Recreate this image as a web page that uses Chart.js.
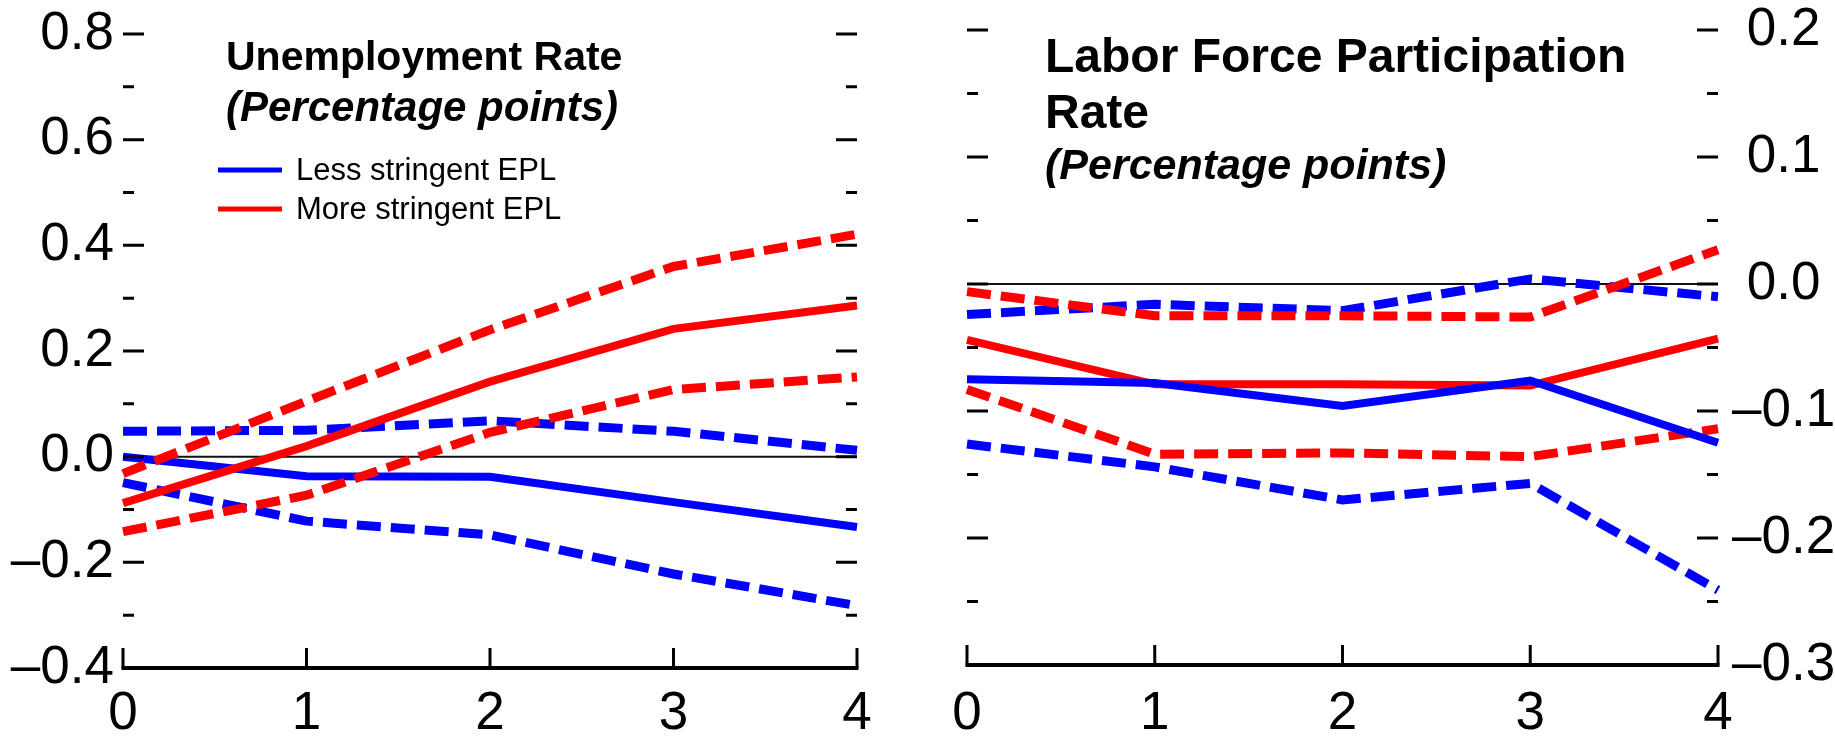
<!DOCTYPE html>
<html>
<head>
<meta charset="utf-8">
<script src="https://cdn.jsdelivr.net/npm/chart.js@4.4.1/dist/chart.umd.min.js"></script>
<style>
  html, body { margin: 0; padding: 0; background: #fff; }
  #wrap { position: relative; width: 1835px; height: 737px; overflow: hidden; background: #fff; }
  #cL { position: absolute; left: 0; top: 0; }
  #cR { position: absolute; left: 917px; top: 0; }
</style>
</head>
<body>
<div id="wrap">
  <canvas id="cL" width="917" height="737"></canvas>
  <canvas id="cR" width="918" height="737"></canvas>
</div>
<script>
// Years after the shock
const horizons = ['0', '1', '2', '3', '4'];

// Unemployment rate response (percentage points)
const urLessMid = [0.000, -0.037, -0.038, -0.086, -0.133];
const urLessHi  = [0.048, 0.050, 0.068, 0.048, 0.012];
const urLessLo  = [-0.049, -0.122, -0.148, -0.222, -0.282];
const urMoreMid = [-0.088, 0.020, 0.142, 0.242, 0.286];
const urMoreHi  = [-0.032, 0.105, 0.240, 0.360, 0.421];
const urMoreLo  = [-0.142, -0.073, 0.046, 0.127, 0.151];

// Labor force participation rate response (percentage points)
const lfLessMid = [-0.075, -0.078, -0.096, -0.076, -0.125];
const lfLessHi  = [-0.024, -0.016, -0.021, 0.004, -0.010];
const lfLessLo  = [-0.126, -0.144, -0.170, -0.157, -0.241];
const lfMoreMid = [-0.044, -0.079, -0.079, -0.080, -0.043];
const lfMoreHi  = [-0.006, -0.025, -0.025, -0.026, 0.027];
const lfMoreLo  = [-0.083, -0.134, -0.133, -0.136, -0.114];

// Axis tick values
const urYTicks = [-0.4, -0.2, 0.0, 0.2, 0.4, 0.6, 0.8];
const lfYTicks = [-0.3, -0.2, -0.1, 0.0, 0.1, 0.2];

// Text
const seriesNames = ['Less stringent EPL', 'More stringent EPL'];
const urTitle = ['Unemployment Rate'];
const lfTitle = ['Labor Force Participation', 'Rate'];
const unitsText = '(Percentage points)';

const FONT = "'Liberation Sans', Arial, Helvetica, sans-serif";
const BLUE = '#0000ff';
const RED = '#ff0000';

Chart.defaults.font.family = FONT;
Chart.defaults.color = '#000';

function fmtTick(v) {
  const s = Math.abs(v) < 1e-9 ? '0.0' : Number(v).toFixed(1);
  return s.replace('-', '\u2013');
}
// right-hand labels: non-negative values get a leading space so digits line up after the dash
function fmtTickRight(v) {
  const s = fmtTick(v);
  return s.charAt(0) === '\u2013' ? s : ' ' + s;
}

function lineSet(label, data, color, dashed) {
  return {
    label: label,
    data: data,
    borderColor: color,
    backgroundColor: color,
    borderWidth: dashed ? 9 : 8,
    borderDash: dashed ? [24, 10] : [],
    borderCapStyle: 'butt',
    borderJoinStyle: 'miter',
    pointRadius: 0,
    pointHoverRadius: 0,
    tension: 0,
    fill: false
  };
}

// Inward tick marks on both vertical edges, bottom axis with upward ticks,
// thin zero line, plus in-panel titles and legend.
const panelDecor = {
  id: 'panelDecor',
  beforeDatasetsDraw(chart) {
    const ctx = chart.ctx;
    const area = chart.chartArea;
    const y0 = chart.scales.y.getPixelForValue(0);
    ctx.save();
    ctx.strokeStyle = '#111';
    ctx.lineWidth = 2;
    ctx.beginPath();
    ctx.moveTo(area.left, y0);
    ctx.lineTo(area.right, y0);
    ctx.stroke();
    ctx.restore();
  },
  afterDraw(chart, args, o) {
    const ctx = chart.ctx;
    const area = chart.chartArea;
    const ys = chart.scales.y;
    const xs = chart.scales.x;
    ctx.save();
    ctx.strokeStyle = '#000';
    ctx.lineWidth = 3;
    ctx.lineCap = 'butt';

    const vals = ys.ticks.map(t => t.value);
    const majorLen = 21, minorLen = 11;
    ctx.beginPath();
    vals.forEach((v, i) => {
      const y = ys.getPixelForValue(v);
      ctx.moveTo(area.left, y); ctx.lineTo(area.left + majorLen, y);
      ctx.moveTo(area.right, y); ctx.lineTo(area.right - majorLen, y);
      if (i < vals.length - 1) {
        const ym = ys.getPixelForValue((v + vals[i + 1]) / 2);
        ctx.moveTo(area.left, ym); ctx.lineTo(area.left + minorLen, ym);
        ctx.moveTo(area.right, ym); ctx.lineTo(area.right - minorLen, ym);
      }
    });
    ctx.stroke();

    // bottom axis
    const yb = area.bottom;
    ctx.lineWidth = 4;
    ctx.beginPath();
    ctx.moveTo(xs.getPixelForValue(0) - 1.5, yb);
    ctx.lineTo(xs.getPixelForValue(chart.data.labels.length - 1) + 1.5, yb);
    ctx.stroke();
    ctx.lineWidth = 3;
    ctx.beginPath();
    chart.data.labels.forEach((l, i) => {
      const x = xs.getPixelForValue(i);
      ctx.moveTo(x, yb);
      ctx.lineTo(x, yb - 20);
    });
    ctx.stroke();

    // titles
    ctx.fillStyle = '#000';
    ctx.textAlign = 'left';
    ctx.textBaseline = 'alphabetic';
    (o.lines || []).forEach(l => {
      ctx.font = l.font;
      ctx.fillText(l.text, l.x, l.y);
    });

    // legend
    if (o.legend) {
      const lg = o.legend;
      lg.items.forEach((it, k) => {
        const yc = lg.y + k * lg.gap;
        ctx.strokeStyle = it.color;
        ctx.lineWidth = 5;
        ctx.beginPath();
        ctx.moveTo(lg.x, yc);
        ctx.lineTo(lg.x + lg.len, yc);
        ctx.stroke();
        ctx.fillStyle = '#000';
        ctx.font = lg.font;
        ctx.textBaseline = 'middle';
        ctx.fillText(it.text, lg.x + lg.len + lg.pad, yc + 1);
      });
    }
    ctx.restore();
  }
};

function makeOptions(cfg) {
  return {
    responsive: false,
    animation: false,
    devicePixelRatio: 1,
    layout: { padding: cfg.padding },
    plugins: {
      legend: { display: false },
      tooltip: { enabled: false },
      panelDecor: cfg.decor
    },
    scales: {
      x: {
        type: 'category',
        offset: false,
        grid: { display: false, drawTicks: false, tickLength: 0 },
        border: { display: false },
        ticks: { font: { size: 53, lineHeight: 1.0 }, color: '#000', padding: cfg.xPad, maxRotation: 0, autoSkip: false },
        afterFit(s) { s.height = cfg.xHeight; s.paddingLeft = 0; s.paddingRight = 0; }
      },
      y: {
        position: cfg.yPos,
        min: cfg.yTicks[0],
        max: cfg.yTicks[cfg.yTicks.length - 1],
        grid: { display: false, drawTicks: false, tickLength: 0 },
        border: { display: false },
        ticks: {
          stepSize: cfg.yTicks[1] - cfg.yTicks[0],
          font: { size: 53, lineHeight: 1.0 },
          color: '#000',
          padding: cfg.yPad,
          callback: cfg.fmt
        },
        afterFit(s) { s.width = cfg.yWidth; s.paddingTop = 0; s.paddingBottom = 0; }
      }
    }
  };
}

// Left panel: unemployment rate
new Chart(document.getElementById('cL'), {
  type: 'line',
  data: {
    labels: horizons,
    datasets: [
      lineSet(seriesNames[1], urMoreMid, RED, false),
      lineSet(seriesNames[1] + ' upper', urMoreHi, RED, true),
      lineSet(seriesNames[1] + ' lower', urMoreLo, RED, true),
      lineSet(seriesNames[0], urLessMid, BLUE, false),
      lineSet(seriesNames[0] + ' upper', urLessHi, BLUE, true),
      lineSet(seriesNames[0] + ' lower', urLessLo, BLUE, true)
    ]
  },
  plugins: [panelDecor],
  options: makeOptions({
    padding: { top: 34, right: 60, left: 0, bottom: 0 },
    xHeight: 69, xPad: 20,
    yPos: 'left', yTicks: urYTicks, yPad: 9, yWidth: 123, fmt: fmtTick,
    decor: {
      lines: [
        { text: urTitle[0], font: 'bold 41px ' + FONT, x: 226, y: 70 },
        { text: unitsText, font: 'italic bold 42px ' + FONT, x: 226, y: 121 }
      ],
      legend: {
        x: 218, y: 170, gap: 39, len: 64, pad: 14,
        font: '31px ' + FONT,
        items: [
          { text: seriesNames[0], color: BLUE },
          { text: seriesNames[1], color: RED }
        ]
      }
    }
  })
});

// Right panel: labor force participation rate
new Chart(document.getElementById('cR'), {
  type: 'line',
  data: {
    labels: horizons,
    datasets: [
      lineSet(seriesNames[0], lfLessMid, BLUE, false),
      lineSet(seriesNames[1], lfMoreMid, RED, false),
      lineSet(seriesNames[1] + ' upper', lfMoreHi, RED, true),
      lineSet(seriesNames[1] + ' lower', lfMoreLo, RED, true),
      lineSet(seriesNames[0] + ' upper', lfLessHi, BLUE, true),
      lineSet(seriesNames[0] + ' lower', lfLessLo, BLUE, true)
    ]
  },
  plugins: [panelDecor],
  options: makeOptions({
    padding: { top: 30, right: 0, left: 50, bottom: 0 },
    xHeight: 72, xPad: 23,
    yPos: 'right', yTicks: lfYTicks, yPad: 14, yWidth: 117, fmt: fmtTickRight,
    decor: {
      lines: [
        { text: lfTitle[0], font: 'bold 48px ' + FONT, x: 128, y: 72 },
        { text: lfTitle[1], font: 'bold 48px ' + FONT, x: 128, y: 128 },
        { text: unitsText, font: 'italic bold 43px ' + FONT, x: 128, y: 179 }
      ]
    }
  })
});
</script>
</body>
</html>
